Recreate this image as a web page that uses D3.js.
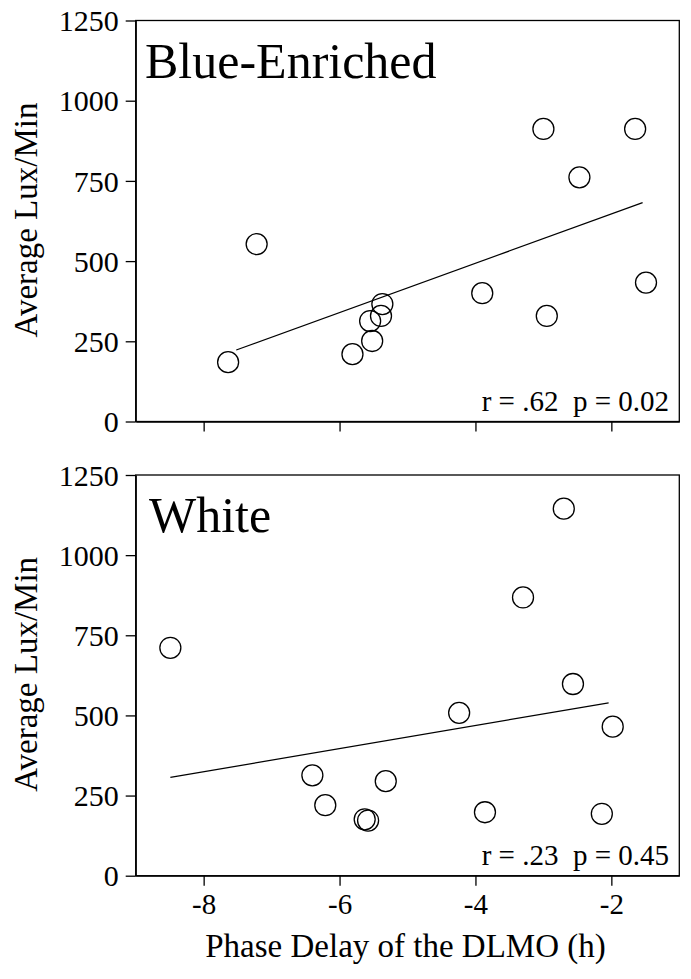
<!DOCTYPE html>
<html>
<head>
<meta charset="utf-8">
<script src="https://cdn.jsdelivr.net/npm/d3@7.9.0/dist/d3.min.js"></script>
<style>
  body { margin: 0; background: #fff; }
  svg text { font-family: "Liberation Serif", "Times New Roman", serif; fill: #000; }
</style>
</head>
<body>
<div id="chart"></div>
<script>
// Phase delay (h) vs average lux/min, one panel per light condition
const blueX = [-7.22, -7.64, -5.81, -5.52, -5.55, -5.39, -5.37, -3.00, -1.65, -2.47, -3.90, -2.95, -1.49];
const blueY = [553, 185, 210, 251, 313, 329, 366, 912, 912, 761, 400, 329, 433];
const whiteX = [-8.49, -6.40, -6.21, -5.63, -5.58, -5.32, -2.70, -3.30, -2.565, -4.24, -1.98, -3.86, -2.14];
const whiteY = [711, 313, 220, 176, 172, 295, 1145, 868, 598, 508, 465, 198, 193];

const blueFitRange = [-7.52, -1.54];
const whiteFitRange = [-8.49, -2.04];

const xTicks = [-8, -6, -4, -2];
const yTicks = [0, 250, 500, 750, 1000, 1250];

const panelTitles = ["Blue-Enriched", "White"];
const statLabels = ["r = .62  p = 0.02", "r = .23  p = 0.45"];
const yTitle = "Average Lux/Min";
const xTitle = "Phase Delay of the DLMO (h)";

const W = 691, H = 979;
const left = 135.7, right = 679.3;
const panels = [
  { top: 20.5, bottom: 421.5, xs: blueX, ys: blueY, fit: blueFitRange, labels: false },
  { top: 475, bottom: 875.7, xs: whiteX, ys: whiteY, fit: whiteFitRange, labels: true }
];

const svg = d3.select("#chart").append("svg")
  .attr("width", W)
  .attr("height", H);

const x = d3.scaleLinear().domain([-9, -1]).range([left, right]);

function leastSquares(xs, ys) {
  const mx = d3.mean(xs), my = d3.mean(ys);
  let sxy = 0, sxx = 0;
  xs.forEach((v, i) => { sxy += (v - mx) * (ys[i] - my); sxx += (v - mx) ** 2; });
  const slope = sxy / sxx;
  return { slope, intercept: my - slope * mx };
}

panels.forEach((p, i) => {
  const y = d3.scaleLinear().domain([0, 1250]).range([p.bottom, p.top]);
  const g = svg.append("g");

  // frame
  g.append("rect")
    .attr("x", left)
    .attr("y", p.top)
    .attr("width", right - left)
    .attr("height", p.bottom - p.top)
    .attr("fill", "none")
    .attr("stroke", "#000")
    .attr("stroke-width", 1.3);

  const yAxis = g.append("g")
    .attr("transform", `translate(${left},0)`)
    .call(d3.axisLeft(y).tickValues(yTicks).tickSize(10).tickSizeOuter(0).tickPadding(7)
      .tickFormat(d => String(d)));
  yAxis.select(".domain").attr("stroke-width", 1.3);
  yAxis.selectAll(".tick line").attr("stroke-width", 1.3);
  yAxis.selectAll(".tick text")
    .attr("font-size", 30)
    .attr("font-family", "Liberation Serif, serif")
    .attr("dy", "0.34em");

  const xAxis = g.append("g")
    .attr("transform", `translate(0,${p.bottom})`)
    .call(d3.axisBottom(x).tickValues(xTicks).tickSize(10).tickSizeOuter(0).tickPadding(8)
      .tickFormat(p.labels ? d => String(d) : () => ""));
  xAxis.select(".domain").attr("stroke-width", 1.3);
  xAxis.selectAll(".tick line").attr("stroke-width", 1.3);
  xAxis.selectAll(".tick text")
    .attr("font-size", 29)
    .attr("font-family", "Liberation Serif, serif");

  // regression line
  const fit = leastSquares(p.xs, p.ys);
  g.append("line")
    .attr("x1", x(p.fit[0]))
    .attr("x2", x(p.fit[1]))
    .attr("y1", y(fit.intercept + fit.slope * p.fit[0]))
    .attr("y2", y(fit.intercept + fit.slope * p.fit[1]))
    .attr("stroke", "#000")
    .attr("stroke-width", 1.2);

  g.selectAll("circle.pt")
    .data(p.xs.map((v, k) => ({ x: v, y: p.ys[k] })))
    .join("circle")
      .attr("class", "pt")
      .attr("cx", d => x(d.x))
      .attr("cy", d => y(d.y))
      .attr("r", 10.5)
      .attr("fill", "none")
      .attr("stroke", "#000")
      .attr("stroke-width", 1.3);

  g.append("text")
    .attr("x", i === 0 ? 145 : 149)
    .attr("y", p.top + 57)
    .attr("font-size", 50)
    .text(panelTitles[i]);

  g.append("text")
    .attr("x", 669)
    .attr("y", p.bottom - 10.5)
    .attr("text-anchor", "end")
    .attr("font-size", 29)
    .style("white-space", "pre")
    .text(statLabels[i]);

  g.append("text")
    .attr("transform", `translate(37,${(p.top + p.bottom) / 2 - 1}) rotate(-90)`)
    .attr("text-anchor", "middle")
    .attr("font-size", 33)
    .text(yTitle);
});

svg.append("text")
  .attr("x", (left + right) / 2 - 2)
  .attr("y", 957)
  .attr("text-anchor", "middle")
  .attr("font-size", 33)
  .text(xTitle);
</script>
</body>
</html>
